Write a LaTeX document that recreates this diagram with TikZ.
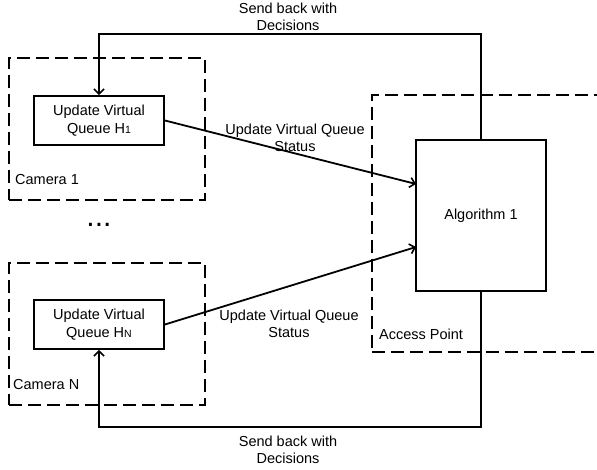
\documentclass[tikz,border=0pt]{standalone}
\usepackage{fontspec}
\setmainfont{Liberation Sans}
\usetikzlibrary{arrows.meta}
\begin{document}
\begin{tikzpicture}[x=1pt,y=-1pt,
  every node/.style={font=\fontsize{14.5}{17.5}\selectfont, inner sep=0pt},
  solidbox/.style={draw, line width=1.8pt, fill=white},
  dashbox/.style={draw, line width=1.8pt, dash pattern=on 13pt off 6pt, anchor=north west},
  conn/.style={line width=1.8pt},
  arr/.style={conn, -{Straight Barb[length=5pt,width=10pt,line width=1.6pt]}},
  lbl/.style={align=center}
]
\useasboundingbox (0,0) rectangle (597,470);
\clip (0,0) rectangle (597,470);
% dashed containers
\node[dashbox, minimum width=196pt, minimum height=142pt] (cam1) at (8,57) {};
\node[dashbox, minimum width=196pt, minimum height=142pt] (camN) at (8,262) {};
\node[dashbox, minimum width=226.5pt, minimum height=257pt] (ap) at (371,94) {};
% solid boxes
\node[solidbox, minimum width=130pt, minimum height=49pt, align=center] (h1) at (99,120.5)
  {Update Virtual\\Queue H{\fontsize{10.5}{10}\selectfont 1}};
\node[solidbox, minimum width=130pt, minimum height=49pt, align=center] (hN) at (99,324.5)
  {Update Virtual\\Queue H{\fontsize{10.5}{10}\selectfont N}};
\node[solidbox, minimum width=130pt, minimum height=151pt] (alg) at (481,215.5)
  {\raisebox{-7pt}{Algorithm 1}};
% container labels
\node[anchor=base west] (c1lbl) at (15,185) {Camera 1};
\node[anchor=base west] (cNlbl) at (13,389) {Camera N};
\node[anchor=base west] (aplbl) at (379,339) {Access Point};
\node[font=\fontsize{30}{30}\selectfont] (dots) at (99,225) {...};
% coordinates
\coordinate (topR) at (481,34);
\coordinate (botR) at (481,427);
\coordinate (in1) at (416,184);
\coordinate (in2) at (416,247);
% connectors
\draw[arr] (alg.north) -- (topR) -| (h1.north);
\draw[arr] (alg.south) -- (botR) -| (hN.south);
\draw[arr] (h1.east) -- (in1);
\draw[arr] (hN.east) -- (in2);
% connector labels
\node[lbl] (sb1) at (288,17) {Send back with\\Decisions};
\node[lbl] (st1) at (295,138) {Update Virtual Queue\\Status};
\node[lbl] (st2) at (289,324) {Update Virtual Queue\\Status};
\node[lbl] (sb2) at (288,450) {Send back with\\Decisions};
\end{tikzpicture}
\end{document}
